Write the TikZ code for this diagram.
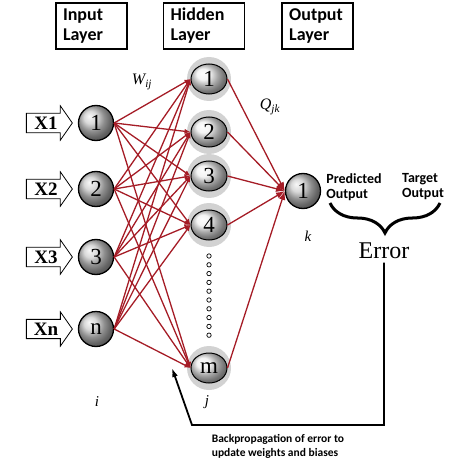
\documentclass[tikz,border=0pt]{standalone}
\usepackage{fontspec}
\setmainfont{Liberation Serif}
\newfontfamily\calib{Carlito}
\usepackage{tikz}
\usetikzlibrary{arrows.meta,positioning,shapes.geometric,shapes.arrows,decorations.pathreplacing,backgrounds}
\definecolor{wire}{RGB}{165,28,38}
\pgfdeclareradialshading{halo}{\pgfpoint{0bp}{0bp}}{color(0bp)=(gray!35); color(33bp)=(gray!35); color(50bp)=(white)}

\begin{document}
\begin{tikzpicture}[
  x=1pt, y=-1pt,
  >=Latex,
  hdr/.style={draw, line width=1.6pt, minimum height=46pt, text width=57pt, inner xsep=7pt, align=left, font=\calib\bfseries\fontsize{18}{20}\selectfont},
  innode/.style={circle, draw, line width=1.3pt, minimum size=35pt, inner sep=0pt, ball color=gray!40, font=\fontsize{23}{23}\selectfont},
  hidnode/.style={ellipse, draw, line width=1pt, minimum width=36pt, minimum height=30pt, inner sep=0pt, ball color=gray!12, font=\fontsize{23}{23}\selectfont},
  inarrow/.style={single arrow, draw, line width=0.8pt, minimum height=46pt, single arrow head extend=7.5pt, single arrow tip angle=110, inner xsep=3pt, inner ysep=3pt, font=\bfseries\fontsize{19}{19}\selectfont},
  link/.style={wire, line width=1.3pt, -{Latex[length=6pt,width=5pt]}},
  back/.style={line width=1.8pt, -{Latex[length=9pt,width=6pt]}},
  lbl/.style={font=\calib\bfseries\fontsize{14}{15}\selectfont, align=left},
  idx/.style={font=\itshape\fontsize{15}{15}\selectfont}
]
  \useasboundingbox (0,0) rectangle (465,468);

  % layer titles
  \node[hdr] (inhdr) at (91.5,26) {Input\\Layer};
  \node[hdr, text width=67pt, right=35pt of inhdr] (hidhdr) {Hidden\\Layer};
  \node[hdr, right=36pt of hidhdr] (outhdr) {Output\\Layer};

  % input layer
  \node[innode] (i1) at (96,123) {1};
  \node[innode] (i2) at (96,189) {2};
  \node[innode] (i3) at (96,257) {3};
  \node[innode] (iN) at (96,329) {n};
  \node[inarrow, left=5pt of i1] (x1) {X1};
  \node[inarrow, left=5pt of i2] (x2) {X2};
  \node[inarrow, left=5pt of i3] (x3) {X3};
  \node[inarrow, left=5pt of iN] (xn) {Xn};

  % hidden layer
  \node[hidnode] (h1) at (209,79) {1};
  \node[hidnode] (h2) at (209,132) {2};
  \node[hidnode] (h3) at (209,176) {3};
  \node[hidnode] (h4) at (209,225) {4};
  \node[hidnode] (hm) at (209,368) {m};
  \begin{scope}[on background layer]
    \foreach \h in {h1,h2,h3,h4,hm}
      \shade[shading=halo] (\h) circle (22pt);
  \end{scope}
  \foreach \y in {256,264.8,...,336}
    \draw[line width=0.7pt] (209,\y) circle (2.2pt);

  % output layer
  \node[innode] (o1) at (303,191) {1};

  % weights
  \path[link] (i1.east) edge (h1.west) edge (h2.west) edge (h3.west) edge (h4.west) edge (hm.west);
  \path[link] (i2.east) edge (h1.west) edge (h2.west) edge (h3.west) edge (h4.west) edge (hm.west);
  \path[link] (i3.east) edge (h1.west) edge (h2.west) edge (h3.west) edge (h4.west) edge (hm.west);
  \path[link] (iN.east) edge (h1.west) edge (h2.west) edge (h3.west) edge (h4.west) edge (hm.west);
  \path[link] (o1.west) edge[<-] (h1.east) edge[<-] (h2.east) edge[<-] (h3.east) edge[<-] (h4.east) edge[<-] (hm.east);

  % labels
  \node[idx, font=\itshape\fontsize{16}{16}\selectfont] (wlbl) at (142,82) {W\textsubscript{ij}};
  \node[idx, font=\itshape\fontsize{16}{16}\selectfont] (qlbl) at (270,107) {Q\textsubscript{jk}};
  \node[idx] (li) at (97,402) {i};
  \node[idx] (lj) at (207,402) {j};
  \node[idx] (lk) at (308,236) {k};

  % error
  \node[lbl] (pred) at (354,187) {Predicted\\Output};
  \node[lbl] (targ) at (423,187) {Target\\Output};
  \draw[line width=3pt, decorate, decoration={brace, mirror, amplitude=30pt}] (330,203) -- (440,203);
  \node[font=\fontsize{24}{24}\selectfont] (err) at (384,251) {Error};

  % backpropagation
  \coordinate (bend) at (192,425);
  \coordinate (bptip) at (172,368);
  \draw[back] (err.south) |- (bend) -- (bptip);
  \node[lbl, font=\calib\bfseries\fontsize{11.5}{14}\selectfont] (bptext) at (278,446) {Backpropagation of error to\\update weights and biases};
\end{tikzpicture}
\end{document}
